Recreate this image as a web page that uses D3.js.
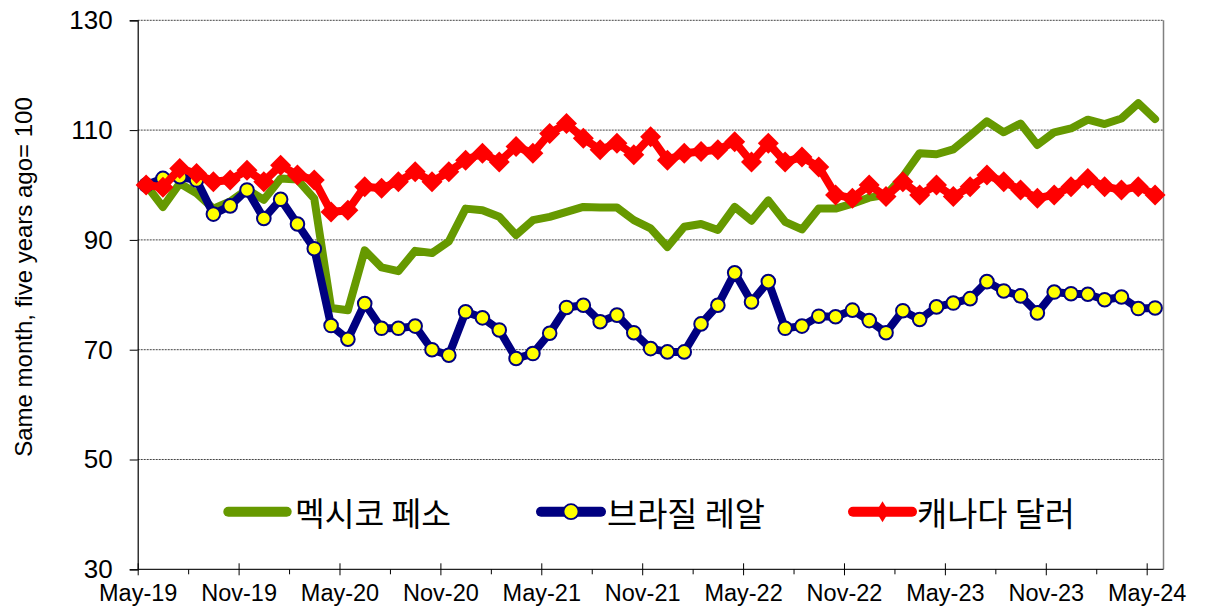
<!DOCTYPE html>
<html>
<head>
<meta charset="utf-8">
<script src="https://cdn.jsdelivr.net/npm/d3@7"></script>
<style>
  html, body { margin: 0; padding: 0; background: #fff; }
  svg { display: block; }
</style>
</head>
<body>
<svg id="chart" width="1207" height="614"></svg>
<script>
// ---------- DATA ----------
const months = [
  "May-19","Jun-19","Jul-19","Aug-19","Sep-19","Oct-19","Nov-19","Dec-19","Jan-20","Feb-20","Mar-20","Apr-20",
  "May-20","Jun-20","Jul-20","Aug-20","Sep-20","Oct-20","Nov-20","Dec-20","Jan-21","Feb-21","Mar-21","Apr-21",
  "May-21","Jun-21","Jul-21","Aug-21","Sep-21","Oct-21","Nov-21","Dec-21","Jan-22","Feb-22","Mar-22","Apr-22",
  "May-22","Jun-22","Jul-22","Aug-22","Sep-22","Oct-22","Nov-22","Dec-22","Jan-23","Feb-23","Mar-23","Apr-23",
  "May-23","Jun-23","Jul-23","Aug-23","Sep-23","Oct-23","Nov-23","Dec-23","Jan-24","Feb-24","Mar-24","Apr-24",
  "May-24"
];
const majorTickLabels = ["May-19","Nov-19","May-20","Nov-20","May-21","Nov-21","May-22","Nov-22","May-23","Nov-23","May-24"];
const minorTickLabels = ["Aug-19","Feb-20","Aug-20","Feb-21","Aug-21","Feb-22","Aug-22","Feb-23","Aug-23","Feb-24"];
const yTicks = [30, 50, 70, 90, 110, 130];

const seriesNames = ["멕시코 페소", "브라질 레알", "캐나다 달러"];

const mexicoPeso = [
  100.0, 96.0, 100.3, 98.5, 95.7, 97.0, 99.2, 97.3, 101.2, 101.0, 97.5, 77.6,
  77.2, 88.1, 85.0, 84.3, 88.0, 87.6, 89.7, 95.7, 95.4, 94.2, 90.9, 93.6,
  94.2, 95.1, 96.0, 95.9, 95.9, 93.6, 92.1, 88.7, 92.4, 92.9, 91.8, 96.0,
  93.5, 97.2, 93.3, 91.9, 95.7, 95.7, 96.6, 97.7, 98.2, 101.5, 105.8, 105.6,
  106.5, 109.0, 111.6, 109.6, 111.2, 107.3, 109.6, 110.3, 111.9, 111.1, 112.1, 114.9,
  112.0
];
const brazilReal = [
  100.0, 101.2, 101.5, 100.9, 94.7, 96.2, 99.1, 93.9, 97.4, 92.9, 88.4, 74.4,
  71.9, 78.4, 73.9, 73.9, 74.3, 70.0, 69.0, 76.9, 75.8, 73.6, 68.4, 69.3,
  73.0, 77.7, 78.1, 75.1, 76.3, 73.1, 70.2, 69.6, 69.6, 74.7, 78.1, 84.0,
  78.7, 82.4, 73.9, 74.3, 76.1, 76.0, 77.2, 75.3, 73.1, 77.1, 75.5, 77.8,
  78.5, 79.3, 82.4, 80.7, 79.8, 76.7, 80.5, 80.2, 80.1, 79.1, 79.6, 77.5,
  77.6
];
const canadaDollar = [
  100.0, 99.6, 103.0, 102.1, 100.6, 100.9, 102.7, 100.6, 103.6, 101.8, 100.9, 95.1,
  95.4, 99.7, 99.4, 100.6, 102.4, 100.6, 102.4, 104.5, 105.8, 104.2, 107.0, 105.8,
  109.4, 111.2, 108.5, 106.4, 107.6, 105.5, 108.8, 104.5, 105.8, 106.1, 106.4, 107.9,
  104.2, 107.6, 104.2, 105.1, 103.3, 98.2, 97.6, 100.0, 97.9, 100.6, 98.2, 100.0,
  97.9, 99.7, 101.8, 100.6, 99.1, 97.6, 98.2, 99.7, 101.2, 99.7, 99.1, 99.7,
  98.2
];

// ---------- LAYOUT ----------
const L = 137.7, R = 1163.5, T = 20.3, B = 569.3;
const svg = d3.select("#chart");

const xEdge = d3.scaleLinear().domain([0, months.length]).range([L, R]);
const xc = i => xEdge(i + 0.5);
const y = d3.scaleLinear().domain([30, 130]).range([B, T]);

const latin = "'Liberation Sans', Arial, Helvetica, sans-serif";
const korean = "'Noto Sans CJK KR', 'Noto Sans', sans-serif";

// Gridlines
svg.append("g").selectAll("line")
  .data(yTicks.filter(v => v > 30))
  .join("line")
  .attr("x1", L).attr("x2", R)
  .attr("y1", d => y(d)).attr("y2", d => y(d))
  .attr("stroke", "#444").attr("stroke-width", 1)
  .attr("stroke-dasharray", "2,1");

// Right border
svg.append("line")
  .attr("x1", R).attr("x2", R).attr("y1", T).attr("y2", B)
  .attr("stroke", "#808080").attr("stroke-width", 1.5);

// Y axis
const yAxis = d3.axisLeft(y).tickValues(yTicks).tickSize(8).tickPadding(17).tickFormat(d3.format("d"));
const gy = svg.append("g").attr("transform", `translate(${L},0)`).call(yAxis);
gy.select(".domain").attr("stroke", "#000").attr("stroke-width", 1.2);
gy.selectAll(".tick line").attr("stroke", "#000");
gy.selectAll(".tick text").attr("font-family", latin).attr("font-size", 26).attr("fill", "#000");

// X axis major
const majorIdx = majorTickLabels.map(m => months.indexOf(m));
const minorIdx = minorTickLabels.map(m => months.indexOf(m));
const xAxis = d3.axisBottom(xEdge).tickValues(majorIdx).tickSize(6).tickPadding(9)
  .tickFormat(i => months[i]);
const gx = svg.append("g").attr("transform", `translate(0,${B})`).call(xAxis);
gx.select(".domain").attr("stroke", "#222").attr("stroke-width", 1.2).attr("d", `M${L},0H${R}`);
gx.selectAll(".tick line").attr("stroke", "#000").attr("y1", -6).attr("y2", 6);
gx.selectAll(".tick text").attr("font-family", latin).attr("font-size", 23.5).attr("fill", "#000");

const xAxisMinor = d3.axisBottom(xEdge).tickValues(minorIdx).tickSize(5).tickFormat("");
const gxm = svg.append("g").attr("transform", `translate(0,${B})`).call(xAxisMinor);
gxm.select(".domain").remove();
gxm.selectAll(".tick line").attr("stroke", "#000");

// Y axis title
svg.append("text")
  .attr("transform", `translate(32,277) rotate(-90)`)
  .attr("text-anchor", "middle")
  .attr("font-family", latin).attr("font-size", 24).attr("fill", "#000")
  .text("Same month, five years ago= 100");

// ---------- SERIES ----------
const line = d3.line().x((d, i) => xc(i)).y(d => y(d));

// Mexico (green)
svg.append("path").datum(mexicoPeso)
  .attr("d", line).attr("fill", "none")
  .attr("stroke", "#669900").attr("stroke-width", 8)
  .attr("stroke-linejoin", "round").attr("stroke-linecap", "round");

// Brazil (navy + yellow circles)
svg.append("path").datum(brazilReal)
  .attr("d", line).attr("fill", "none")
  .attr("stroke", "#000080").attr("stroke-width", 8)
  .attr("stroke-linejoin", "round").attr("stroke-linecap", "round");
svg.append("g").selectAll("circle").data(brazilReal).join("circle")
  .attr("cx", (d, i) => xc(i)).attr("cy", d => y(d)).attr("r", 6.8)
  .attr("fill", "#FFFF00").attr("stroke", "#000080").attr("stroke-width", 2);

// Canada (red + diamonds)
svg.append("path").datum(canadaDollar)
  .attr("d", line).attr("fill", "none")
  .attr("stroke", "#FF0000").attr("stroke-width", 8)
  .attr("stroke-linejoin", "round").attr("stroke-linecap", "round");
const dia = "M0,-10.5L10.5,0L0,10.5L-10.5,0Z";
svg.append("g").selectAll("path").data(canadaDollar).join("path")
  .attr("transform", (d, i) => `translate(${xc(i)},${y(d)})`)
  .attr("d", dia).attr("fill", "#FF0000");

// ---------- LEGEND ----------
const legendY = 511.7;
const legendItems = [
  { name: seriesNames[0], x1: 228.3, x2: 286.7, tx: 295, tw: 156, color: "#669900", marker: null },
  { name: seriesNames[1], x1: 541, x2: 601, tx: 607, tw: 158, color: "#000080", marker: "circle" },
  { name: seriesNames[2], x1: 853, x2: 912, tx: 917, tw: 158, color: "#FF0000", marker: "diamond" }
];
const lg = svg.append("g");
legendItems.forEach(it => {
  lg.append("line").attr("x1", it.x1).attr("x2", it.x2)
    .attr("y1", legendY).attr("y2", legendY)
    .attr("stroke", it.color).attr("stroke-width", 10).attr("stroke-linecap", "round");
  const mx = (it.x1 + it.x2) / 2;
  if (it.marker === "circle") {
    lg.append("circle").attr("cx", mx).attr("cy", legendY).attr("r", 7.5)
      .attr("fill", "#FFFF00").attr("stroke", "#000080").attr("stroke-width", 1.8);
  } else if (it.marker === "diamond") {
    lg.append("path").attr("transform", `translate(${mx},${legendY})`)
      .attr("d", "M0,-10.5L6.5,0L0,10.5L-6.5,0Z").attr("fill", "#FF0000");
  }
  lg.append("text").attr("x", it.tx).attr("y", legendY)
    .attr("dominant-baseline", "central")
    .attr("font-family", korean).attr("font-size", 33).attr("fill", "#000")
    .attr("textLength", it.tw).attr("lengthAdjust", "spacingAndGlyphs")
    .text(it.name);
});
</script>
</body>
</html>
